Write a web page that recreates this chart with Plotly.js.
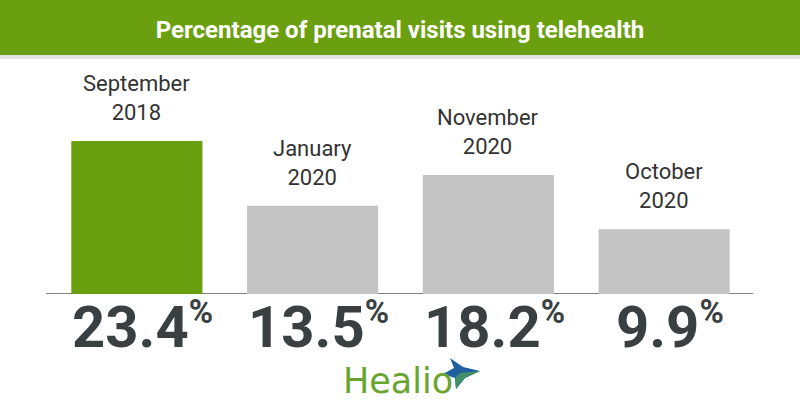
<!DOCTYPE html>
<html>
<head>
<meta charset="utf-8">
<script src="https://cdn.plot.ly/plotly-3.0.1.min.js"></script>
<style>html,body{margin:0;padding:0;background:#fff;}#chart{width:800px;height:420px;}</style>
</head>
<body>
<div id="chart"></div>
<script>
// ---- data ----
const categories = ['September 2018', 'January 2020', 'November 2020', 'October 2020'];
const values = [23.4, 13.5, 18.2, 9.9];
const barColors = ['#6a9f10', '#c3c3c3', '#c3c3c3', '#c3c3c3'];
const chartTitle = 'Percentage of prenatal visits using telehealth';
const brand = 'Healio';

// ---- layout helpers (pixel -> paper) ----
const W = 800, H = 420, ML = 49, MR = 48, MT = 60, MB = 126;
const PW = W - ML - MR, PH = H - MT - MB;
const px = x => (x - ML) / PW;
const py = y => (H - MB - y) / PH;

const annotations = [];
categories.forEach((c, i) => {
  annotations.push({
    xref: 'x', yref: 'y', x: c, y: values[i], yanchor: 'bottom', yshift: 14,
    text: c.replace(' ', '<br>'), showarrow: false,
    font: {family: 'Roboto, sans-serif', size: 22, color: '#333333'}
  });
  annotations.push({
    xref: 'x', yref: 'paper', x: c, y: 0, yanchor: 'top', yshift: 4, xshift: 6,
    text: values[i].toFixed(1) + '<sup><span style="font-size:33px">%</span></sup>', showarrow: false,
    font: {family: 'Roboto, sans-serif', size: 58, color: '#3a3f42', weight: 700}
  });
});
annotations.push({
  xref: 'paper', yref: 'paper', x: px(398), y: py(381), xanchor: 'center', yanchor: 'middle',
  text: brand, showarrow: false,
  font: {family: 'DejaVu Sans, sans-serif', size: 35, color: '#6aa532'}
});

const P = (x, y) => px(x).toFixed(5) + ',' + py(y).toFixed(5);
const starPath = 'M' + P(450, 358) + 'L' + P(463, 367) + 'L' + P(480, 371) + 'L' + P(465, 378) +
  'L' + P(456, 389) + 'L' + P(455, 378) + 'L' + P(443, 374) + 'L' + P(454, 368) + 'Z';
const starLower = 'M' + P(480, 371) + 'L' + P(465, 378) + 'L' + P(456, 389) + 'L' + P(455, 378) + 'L' + P(460, 373) + 'Z';

const shapes = [
  {type: 'rect', xref: 'paper', yref: 'paper', x0: px(0), x1: px(800), y0: py(55), y1: py(0),
   fillcolor: '#6aa00f', line: {width: 0}, layer: 'below'},
  {type: 'rect', xref: 'paper', yref: 'paper', x0: px(0), x1: px(800), y0: py(59), y1: py(55),
   fillcolor: '#e2e2e2', line: {width: 0}, layer: 'below'},
  {type: 'line', xref: 'paper', yref: 'y', x0: px(46), x1: px(753), y0: 0, y1: 0,
   line: {color: '#555555', width: 1.5}, layer: 'below'},
  {type: 'path', xref: 'paper', yref: 'paper', path: starPath, fillcolor: '#1f5f9e', line: {width: 0}},
  {type: 'path', xref: 'paper', yref: 'paper', path: starLower, fillcolor: '#3f8f6a', line: {width: 0}}
];

const trace = {
  type: 'bar', x: categories, y: values,
  marker: {color: barColors, line: {width: 0}},
  hoverinfo: 'none'
};

const layout = {
  width: W, height: H,
  margin: {l: ML, r: MR, t: MT, b: MB, pad: 0},
  paper_bgcolor: '#ffffff', plot_bgcolor: 'rgba(0,0,0,0)',
  bargap: 0.254,
  showlegend: false,
  title: {text: chartTitle, x: 0.5, xanchor: 'center', y: 1 - 30 / H, yanchor: 'middle', yref: 'container',
          font: {family: 'Liberation Sans Narrow, Roboto, sans-serif', size: 24, color: '#ffffff', weight: 700}},
  xaxis: {showticklabels: false, showgrid: false, zeroline: false, showline: false, ticks: '', fixedrange: true},
  yaxis: {range: [0, PH / 6.54], visible: false, showgrid: false, zeroline: false, fixedrange: true},
  annotations: annotations,
  shapes: shapes
};

Plotly.newPlot('chart', [trace], layout, {displayModeBar: false, staticPlot: true});
</script>
</body>
</html>
